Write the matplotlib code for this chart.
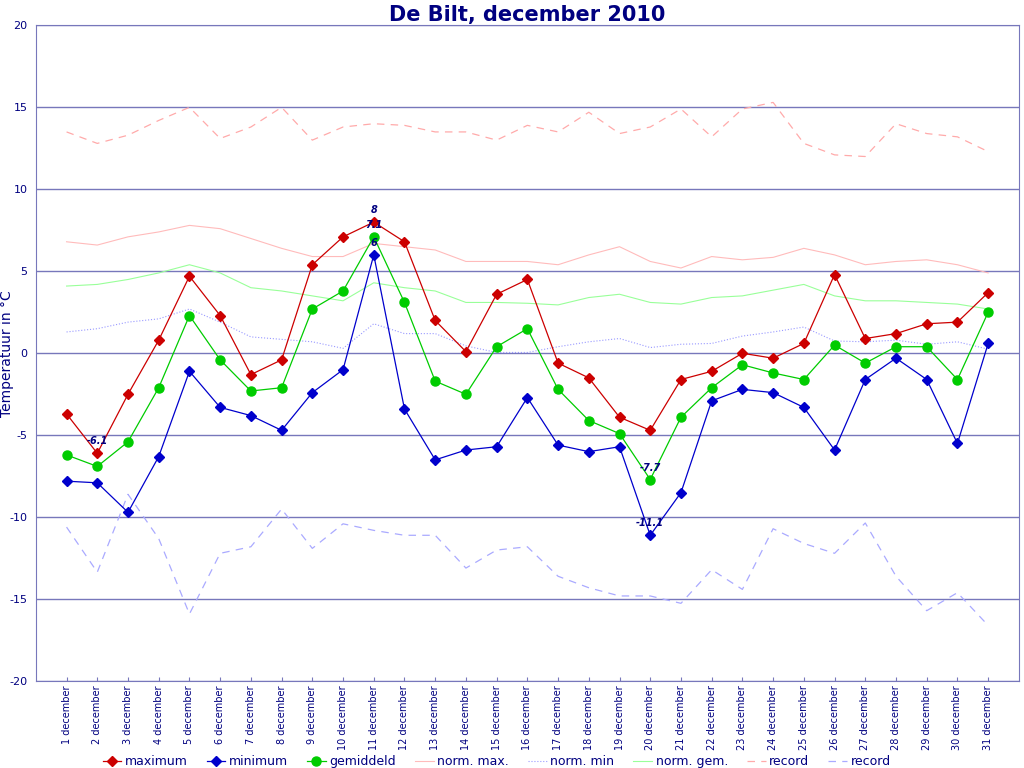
import numpy as np
import matplotlib
matplotlib.use("Agg")
import matplotlib.pyplot as plt

plt.rcParams["axes.unicode_minus"] = False

days = list(range(1, 32))
day_labels = [f"{d} december" for d in days]

maximum = [-3.7, -6.1, -2.5, 0.8, 4.7, 2.3, -1.3, -0.4, 5.4, 7.1, 8.0, 6.8, 2.0, 0.1, 3.6,
           4.5, -0.6, -1.5, -3.9, -4.7, -1.6, -1.1, 0.0, -0.3, 0.6, 4.8, 0.9, 1.2, 1.8, 1.9, 3.7]
minimum = [-7.8, -7.9, -9.7, -6.3, -1.1, -3.3, -3.8, -4.7, -2.4, -1.0, 6.0, -3.4, -6.5, -5.9, -5.7,
           -2.7, -5.6, -6.0, -5.7, -11.1, -8.5, -2.9, -2.2, -2.4, -3.3, -5.9, -1.6, -0.3, -1.6, -5.5, 0.6]
gemiddeld = [-6.2, -6.9, -5.4, -2.1, 2.3, -0.4, -2.3, -2.1, 2.7, 3.8, 7.1, 3.1, -1.7, -2.5, 0.4,
             1.5, -2.2, -4.1, -4.9, -7.7, -3.9, -2.1, -0.7, -1.2, -1.6, 0.5, -0.6, 0.4, 0.4, -1.6, 2.5]
norm_max = [6.8, 6.6, 7.1, 7.4, 7.8, 7.6, 7.0, 6.4, 5.9, 5.9, 6.7, 6.5, 6.3, 5.6, 5.6,
            5.6, 5.4, 6.0, 6.5, 5.6, 5.2, 5.9, 5.7, 5.85, 6.4, 6.0, 5.4, 5.6, 5.7, 5.4, 4.9]
norm_min = [1.3, 1.5, 1.9, 2.1, 2.7, 1.9, 1.0, 0.85, 0.7, 0.3, 1.8, 1.2, 1.2, 0.45, 0.05,
            0.05, 0.4, 0.7, 0.9, 0.35, 0.55, 0.6, 1.05, 1.3, 1.6, 0.75, 0.7, 0.8, 0.55, 0.7, 0.25]
norm_gem = [4.1, 4.2, 4.5, 4.9, 5.4, 4.9, 4.0, 3.8, 3.5, 3.2, 4.3, 4.0, 3.8, 3.1, 3.1,
            3.05, 2.95, 3.4, 3.6, 3.1, 3.0, 3.4, 3.5, 3.85, 4.2, 3.5, 3.2, 3.2, 3.1, 3.0, 2.7]
record_max = [13.5, 12.8, 13.3, 14.2, 15.0, 13.1, 13.8, 15.0, 13.0, 13.8, 14.0, 13.9, 13.5, 13.5, 13.0,
              13.9, 13.5, 14.7, 13.4, 13.8, 14.9, 13.2, 14.9, 15.3, 12.8, 12.1, 12.0, 14.0, 13.4, 13.2, 12.3]
record_min = [-10.6, -13.35, -8.6, -11.3, -15.9, -12.2, -11.8, -9.5, -11.9, -10.4, -10.8, -11.1, -11.1, -13.1, -12.0,
              -11.8, -13.6, -14.3, -14.8, -14.8, -15.25, -13.2, -14.4, -10.7, -11.6, -12.2, -10.35, -13.6, -15.7, -14.6, -16.6]

# (series, day, value) labels shown on the chart
annotations = [("max", 2, -6.1), ("max", 11, 8.0), ("gem", 11, 7.1),
               ("min", 11, 6.0), ("gem", 20, -7.7), ("min", 20, -11.1)]

navy = "#000080"
axis_col = "#7777bb"

fig = plt.figure(figsize=(10.24, 7.68), dpi=100)
ax = fig.add_axes([0.035, 0.113, 0.96, 0.854])

ax.plot(days, norm_max, color="#ffbbbb", linewidth=0.8, label="norm. max.")
ax.plot(days, norm_min, color="#9999ff", linewidth=0.8, linestyle=":", label="norm. min")
ax.plot(days, norm_gem, color="#99ff99", linewidth=0.8, label="norm. gem.")
ax.plot(days, record_max, color="#ffaaaa", linewidth=0.9, dashes=(6, 5), label="record")
ax.plot(days, record_min, color="#aaaaff", linewidth=0.9, dashes=(6, 5), label="record")

ax.plot(days, maximum, color="#cc0000", linewidth=0.9, marker="D", markersize=5, label="maximum")
ax.plot(days, minimum, color="#0000cc", linewidth=0.9, marker="D", markersize=5, label="minimum")
ax.plot(days, gemiddeld, color="#00cc00", linewidth=0.9, marker="o", markersize=6.5, label="gemiddeld")

for _, d, v in annotations:
    ax.annotate(f"{v:g}", (d, v), xytext=(0, 5), textcoords="offset points",
                ha="center", va="bottom", fontsize=7, fontweight="bold",
                fontstyle="italic", color=navy)

ax.set_xlim(0, 32)
ax.set_ylim(-20, 20)
ax.set_yticks(range(-20, 21, 5))
ax.set_xticks(days)
ax.set_xticklabels(day_labels, rotation=90, fontsize=7, color=navy)
ax.tick_params(axis="x", direction="in", length=3, color=axis_col, pad=3)
ax.tick_params(axis="y", length=0, labelsize=8, labelcolor=navy, pad=6)
ax.yaxis.grid(True, color=axis_col, linewidth=1)
ax.set_axisbelow(True)
for sp in ax.spines.values():
    sp.set_color(axis_col)

ax.set_ylabel("Temperatuur in °C", color=navy, fontsize=10)
ax.yaxis.set_label_coords(-0.022, 0.5)
ax.set_title("De Bilt, december 2010", color=navy, fontsize=15, fontweight="bold", pad=3)

handles, labels = ax.get_legend_handles_labels()
order = [5, 6, 7, 0, 1, 2, 3, 4]
fig.legend([handles[i] for i in order], [labels[i] for i in order],
           loc="lower center", bbox_to_anchor=(0.485, -0.015), ncol=8, frameon=False,
           fontsize=9, labelcolor=navy, handlelength=1.5, columnspacing=1.5,
           handletextpad=0.3)

fig.savefig("out.png", dpi=100)
